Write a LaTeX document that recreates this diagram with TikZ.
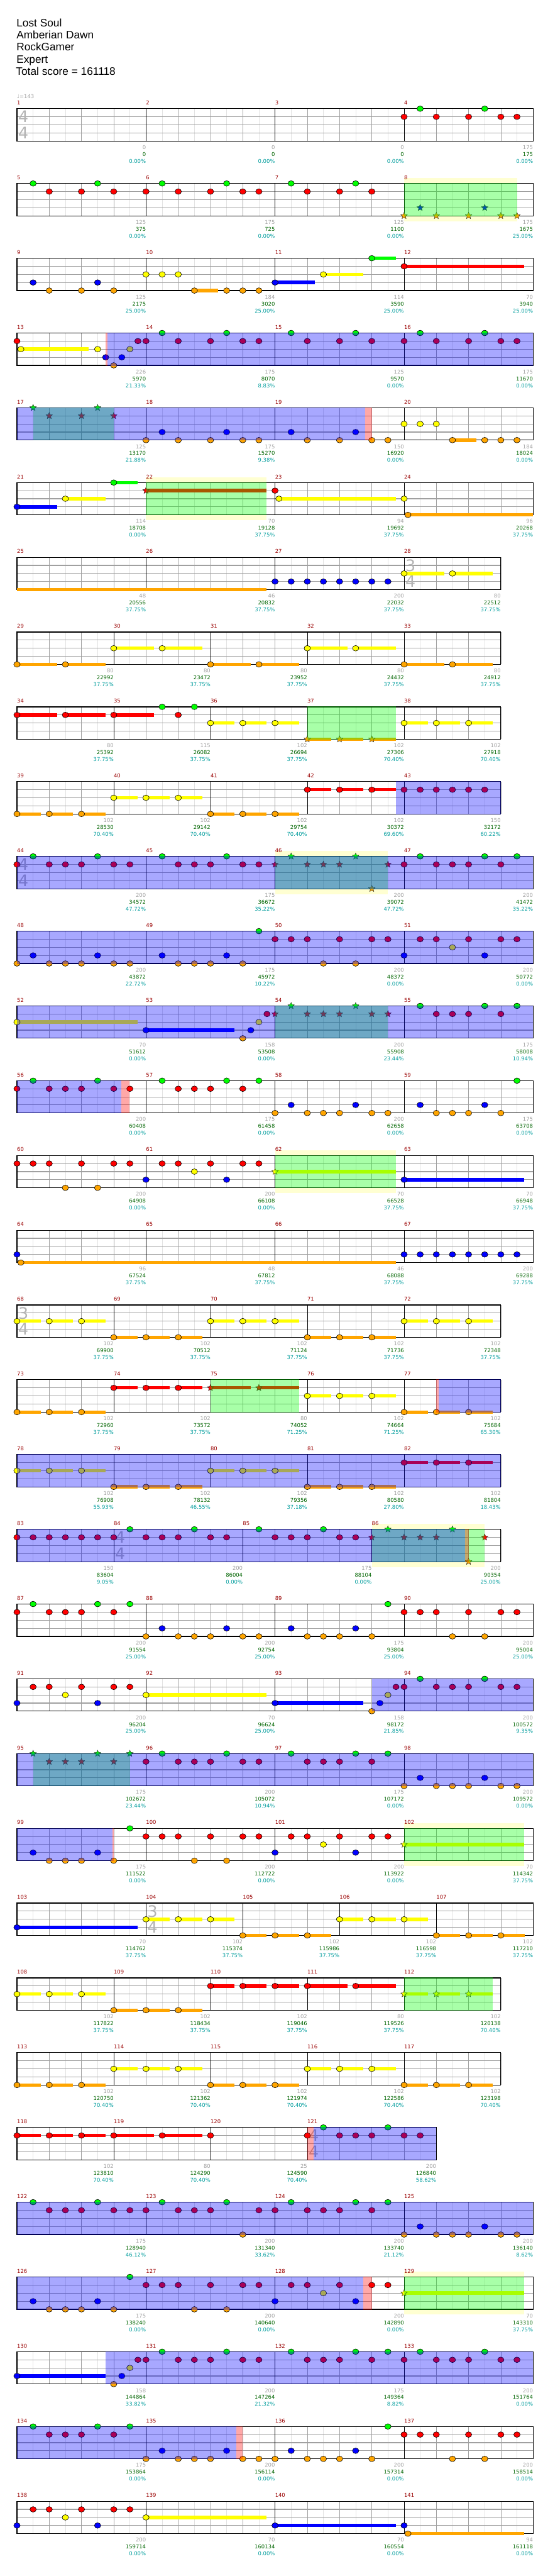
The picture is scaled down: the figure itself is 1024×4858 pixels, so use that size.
\documentclass[tikz,border=0pt]{standalone}
\usepackage{fontspec}
\setmainfont{DejaVu Sans}
\newfontfamily\titlefont{Liberation Sans}
\usepackage{tikz}
\usetikzlibrary{shapes.geometric}
\definecolor{gemgreen}{HTML}{00FF00}
\definecolor{gemred}{HTML}{FF0000}
\definecolor{gemyellow}{HTML}{FFFF00}
\definecolor{gemblue}{HTML}{0000FF}
\definecolor{gemorange}{HTML}{FFA500}
\definecolor{measred}{HTML}{990000}
\definecolor{scoregrey}{HTML}{A0A0A0}
\definecolor{scoregreen}{HTML}{006400}
\definecolor{scoreteal}{HTML}{009C9C}
\definecolor{sigrey}{HTML}{B4B4B4}
\definecolor{soloyellow}{HTML}{FFFFD2}
\definecolor{lanegrey}{HTML}{A0A0A0}
\definecolor{halfgrey}{HTML}{E2E2E2}
\pgfdeclarelayer{solo}
\pgfdeclarelayer{tint}
\pgfsetlayers{solo,main,tint}
\tikzset{
  row/.style={shift={(32pt,{-205pt-141pt*#1})},x=60.875pt,y=-15.25pt},
  % noter
  gem/.style={ellipse,draw=black,line width=0.7pt,inner sep=0pt,
              minimum width=12pt,minimum height=10.5pt},
  stargem/.style={star,star points=5,star point ratio=2.2,draw=black!85,
              line width=0.5pt,inner sep=0pt,minimum size=13pt},
  susbar/.style={line width=6.5pt},
  % rutnät
  halfl/.style={draw=halfgrey,line width=0.8pt},
  beatl/.style={draw=lanegrey,line width=0.9pt},
  lanel/.style={draw=lanegrey,line width=1.3pt},
  barl/.style={draw=black,line width=0.9pt},
  frame/.style={draw=black,line width=1.4pt},
  % fält
  odz/.style={fill=blue,fill opacity=0.34},
  phrz/.style={fill=green,fill opacity=0.34},
  actz/.style={fill=red,fill opacity=0.34},
  solob/.style={fill=soloyellow},
  % text
  mnum/.style={font=\fontsize{10}{12}\selectfont,text=measred,anchor=base west,inner sep=0pt},
  sg/.style={font=\fontsize{10}{12}\selectfont,text=scoregrey,anchor=base east,inner sep=0pt},
  sc/.style={font=\fontsize{10}{12}\selectfont,text=scoregreen,anchor=base east,inner sep=0pt},
  sp/.style={font=\fontsize{10}{12}\selectfont,text=scoreteal,anchor=base east,inner sep=0pt},
  tsnum/.style={font=\fontsize{30}{30}\selectfont,text=sigrey,inner sep=0pt},
  head/.style={font=\titlefont\fontsize{20.5}{23}\selectfont,anchor=base west,inner sep=0pt},
}
\newcommand{\staff}[1]{%
  \fill[white] (0,0) rectangle (#1,4);
  \foreach \k in {1,...,#1} {\draw[halfl] (\k-0.5,0) -- (\k-0.5,4);}
  \foreach \k in {1,...,#1} {\draw[beatl] (\k,0) -- (\k,4);}
  \foreach \l in {1,2,3} {\draw[lanel] (0,\l) -- (#1,\l);}
  \draw[frame] (0,0) rectangle (#1,4);}
\newcommand{\meas}[2]{\draw[barl] (#1,0) -- (#1,4);
  \node[mnum,yshift=7.4pt] at (#1,0) {#2};}
\newcommand{\tsig}[3]{\node[tsnum] at (#1+0.2,1) {#2};\node[tsnum] at (#1+0.2,3) {#3};}
\newcommand{\gems}[3]{\foreach \bt in {#3} {\node[gem,fill=#1] at (\bt,#2) {};}}
\newcommand{\stars}[3]{\foreach \bt in {#3} {\node[stargem,fill=#1] at (\bt,#2) {};}}
\newcommand{\sus}[4]{\draw[susbar,draw=#1] (#3,#2) -- (#4,#2);
  \node[gem,fill=#1] at (#3,#2) {};}
\newcommand{\starsus}[4]{\draw[susbar,draw=#1] (#3,#2) -- (#4,#2);
  \node[stargem,fill=#1] at (#3,#2) {};}
\newcommand{\suss}[4]{\foreach \bt in {#4} {\draw[susbar,draw=#1] (\bt,#2) -- (\bt+#3,#2);
  \node[gem,fill=#1] at (\bt,#2) {};}}
\newcommand{\starsuss}[4]{\foreach \bt in {#4} {\draw[susbar,draw=#1] (\bt,#2) -- (\bt+#3,#2);
  \node[stargem,fill=#1] at (\bt,#2) {};}}
\newcommand{\tail}[4]{\draw[susbar,draw=#1] (#3,#2) -- (#4,#2);}
\newcommand{\solo}[2]{\begin{pgfonlayer}{solo}\fill[solob] (#1,-0.656) rectangle (#2,4.656);\end{pgfonlayer}}
\newcommand{\phr}[2]{\begin{pgfonlayer}{tint}\fill[phrz] (#1,-0.045) rectangle (#2,4.045);\end{pgfonlayer}}
\newcommand{\od}[2]{\begin{pgfonlayer}{tint}\fill[odz] (#1,-0.045) rectangle (#2,4.045);\end{pgfonlayer}}
\newcommand{\act}[2]{\begin{pgfonlayer}{tint}\fill[actz] (#1,-0.045) rectangle (#2,4.045);\end{pgfonlayer}}
\newcommand{\scr}[4]{\node[sg,yshift=-15.65pt] at (#1,4) {#2};
  \node[sc,yshift=-28.65pt] at (#1,4) {#3};
  \node[sp,yshift=-41.65pt] at (#1,4) {#4\%};}

\begin{document}
\begin{tikzpicture}
\useasboundingbox (0,0) rectangle (1024pt,-4858pt);
\node[head] (song) at (31pt,-50pt) {Lost Soul};
\node[head] (band) at (31pt,-73pt) {Amberian Dawn};
\node[head] (chart) at (31pt,-96pt) {RockGamer};
\node[head] (diff) at (31pt,-119pt) {Expert};
\node[head] (total) at (30pt,-142pt) {Total score = 161118};

% 1-4
\begin{scope}[row=0]
  \staff{16}
  \meas{0}{1}\meas{4}{2}\meas{8}{3}\meas{12}{4}
  \tsig{0}{4}{4}
  \node[font=\fontsize{10}{12}\selectfont,text=scoregrey,anchor=base west,inner sep=0pt,yshift=19pt] (tempo) at (0,0) {♩=143};
  \gems{gemred}{1}{12,13,14,15,15.5}
  \gems{gemgreen}{0}{12.5,14.5}
  \scr{4}{0}{0}{0.00}\scr{8}{0}{0}{0.00}\scr{12}{0}{0}{0.00}\scr{16}{175}{175}{0.00}
\end{scope}
% 5-8
\begin{scope}[row=1]
  \staff{16}
  \meas{0}{5}\meas{4}{6}\meas{8}{7}\meas{12}{8}
  \gems{gemgreen}{0}{0.5,2.5,4.5,6.5,8.5,10.5}
  \gems{gemred}{1}{1,2,3,4,5,6,7,7.5,9,10,11}
  \stars{gemorange}{4}{12,13,14,15,15.5}
  \stars{gemblue}{3}{12.5,14.5}
  \solo{12}{15.5}\phr{12}{15.5}
  \scr{4}{125}{375}{0.00}\scr{8}{175}{725}{0.00}\scr{12}{125}{1100}{0.00}\scr{16}{175}{1675}{25.00}
\end{scope}
% 9-12
\begin{scope}[row=2]
  \staff{16}
  \meas{0}{9}\meas{4}{10}\meas{8}{11}\meas{12}{12}
  \gems{gemblue}{3}{0.5,2.5}
  \gems{gemorange}{4}{1,2,3,6.5,7,7.5}
  \gems{gemyellow}{2}{4,4.5,5}
  \sus{gemorange}{4}{5.5}{6.24}
  \sus{gemblue}{3}{8}{9.24}
  \sus{gemyellow}{2}{9.5}{10.74}
  \sus{gemgreen}{0}{11}{11.74}
  \sus{gemred}{1}{12}{15.72}
  \scr{4}{125}{2175}{25.00}\scr{8}{184}{3020}{25.00}\scr{12}{114}{3590}{25.00}\scr{16}{70}{3940}{25.00}
\end{scope}
% 13-16
\begin{scope}[row=3]
  \staff{16}
  \meas{0}{13}\meas{4}{14}\meas{8}{15}\meas{12}{16}
  \sus{gemyellow}{2}{0.12}{2.23}
  \gems{gemred}{1}{0,3.75,4,5,6,7,7.5,9,10,11,12,13,14,15,15.5}
  \gems{gemyellow}{2}{2.5,3.5}
  \gems{gemblue}{3}{2.75,3.25}
  \gems{gemorange}{4}{3}
  \gems{gemgreen}{0}{4.5,6.5,8.5,10.5,12.5,14.5}
  \od{2.8}{16}\act{2.74}{2.8}
  \scr{4}{226}{5970}{21.33}\scr{8}{175}{8070}{8.83}\scr{12}{125}{9570}{0.00}\scr{16}{175}{11670}{0.00}
\end{scope}
% 17-20
\begin{scope}[row=4]
  \staff{16}
  \meas{0}{17}\meas{4}{18}\meas{8}{19}\meas{12}{20}
  \stars{gemgreen}{0}{0.5,2.5}
  \stars{gemred}{1}{1,2,3}
  \gems{gemorange}{4}{4,5,6,7,7.5,9,10,11,11.5,14.5,15,15.5}
  \gems{gemblue}{3}{4.5,6.5,8.5,10.5}
  \gems{gemyellow}{2}{12,12.5,13}
  \sus{gemorange}{4}{13.5}{14.24}
  \phr{0.5}{3}\od{0}{10.8}\act{10.8}{11}
  \scr{4}{125}{13170}{21.88}\scr{8}{175}{15270}{9.38}\scr{12}{150}{16920}{0.00}\scr{16}{184}{18024}{0.00}
\end{scope}
% 21-24
\begin{scope}[row=5]
  \staff{16}
  \meas{0}{21}\meas{4}{22}\meas{8}{23}\meas{12}{24}
  \sus{gemblue}{3}{0}{1.24}
  \sus{gemyellow}{2}{1.5}{2.74}
  \sus{gemgreen}{0}{3}{3.74}
  \starsus{gemred}{1}{4}{7.74}
  \gems{gemred}{1}{8}
  \sus{gemyellow}{2}{8.12}{11.74}
  \gems{gemyellow}{2}{12}
  \sus{gemorange}{4}{12.12}{16}
  \solo{4}{7.74}\phr{4}{7.74}
  \scr{4}{114}{18708}{0.00}\scr{8}{70}{19128}{37.75}\scr{12}{94}{19692}{37.75}\scr{16}{96}{20268}{37.75}
\end{scope}
% 25-28
\begin{scope}[row=6]
  \staff{15}
  \meas{0}{25}\meas{4}{26}\meas{8}{27}\meas{12}{28}
  \tsig{12}{3}{4}
  \tail{gemorange}{4}{0}{7.74}
  \gems{gemblue}{3}{8,8.5,...,11.5}
  \sus{gemyellow}{2}{12}{13.24}\sus{gemyellow}{2}{13.5}{14.74}
  \scr{4}{48}{20556}{37.75}\scr{8}{46}{20832}{37.75}\scr{12}{200}{22032}{37.75}\scr{15}{80}{22512}{37.75}
\end{scope}
% 29-33
\begin{scope}[row=7]
  \staff{15}
  \meas{0}{29}\meas{3}{30}\meas{6}{31}\meas{9}{32}\meas{12}{33}
  \suss{gemorange}{4}{1.24}{0,1.5,6,7.5,12,13.5}
  \suss{gemyellow}{2}{1.24}{3,4.5,9,10.5}
  \scr{3}{80}{22992}{37.75}\scr{6}{80}{23472}{37.75}\scr{9}{80}{23952}{37.75}\scr{12}{80}{24432}{37.75}\scr{15}{80}{24912}{37.75}
\end{scope}
% 34-38
\begin{scope}[row=8]
  \staff{15}
  \meas{0}{34}\meas{3}{35}\meas{6}{36}\meas{9}{37}\meas{12}{38}
  \suss{gemred}{1}{1.24}{0,1.5,3}
  \gems{gemgreen}{0}{4.5,5.5}
  \gems{gemred}{1}{5}
  \suss{gemyellow}{2}{0.74}{6,7,8,12,13,14}
  \starsuss{gemorange}{4}{0.74}{9,10,11}
  \phr{9}{11.74}
  \scr{3}{80}{25392}{37.75}\scr{6}{115}{26082}{37.75}\scr{9}{102}{26694}{37.75}\scr{12}{102}{27306}{70.40}\scr{15}{102}{27918}{70.40}
\end{scope}
% 39-43
\begin{scope}[row=9]
  \staff{15}
  \meas{0}{39}\meas{3}{40}\meas{6}{41}\meas{9}{42}\meas{12}{43}
  \suss{gemorange}{4}{0.74}{0,1,2,6,7,8}
  \suss{gemyellow}{2}{0.74}{3,4,5}
  \suss{gemred}{1}{0.74}{9,10,11}
  \gems{gemred}{1}{12,12.5,...,14.5}
  \od{11.74}{15}
  \scr{3}{102}{28530}{70.40}\scr{6}{102}{29142}{70.40}\scr{9}{102}{29754}{70.40}\scr{12}{102}{30372}{69.60}\scr{15}{150}{32172}{60.22}
\end{scope}
% 44-47
\begin{scope}[row=10]
  \staff{16}
  \meas{0}{44}\meas{4}{45}\meas{8}{46}\meas{12}{47}
  \tsig{0}{4}{4}
  \gems{gemred}{1}{0,1,1.5,2,3,3.5,5,5.5,6,7,7.5,12,13,13.5,14,15}
  \gems{gemgreen}{0}{0.5,2.5,4.5,6.5,12.5,14.5,15.5}
  \stars{gemred}{1}{8,9,9.5,10,11.5}
  \stars{gemgreen}{0}{8.5,10.5}
  \stars{gemorange}{4}{11}
  \solo{8}{11.5}\phr{8}{11.5}\od{0}{16}
  \scr{4}{200}{34572}{47.72}\scr{8}{175}{36672}{35.22}\scr{12}{200}{39072}{47.72}\scr{16}{200}{41472}{35.22}
\end{scope}
% 48-51
\begin{scope}[row=11]
  \staff{16}
  \meas{0}{48}\meas{4}{49}\meas{8}{50}\meas{12}{51}
  \gems{gemgreen}{0}{7.5}
  \gems{gemred}{1}{8,8.5,9,10,11,11.5,12.5,13,14,15,15.5}
  \gems{gemyellow}{2}{13.5}
  \gems{gemblue}{3}{0.5,2.5,4.5,6.5,12,14.5}
  \gems{gemorange}{4}{0,1,1.5,2,3,3.5,5,5.5,6,7,9.5,10.5}
  \od{0}{16}
  \scr{4}{200}{43872}{22.72}\scr{8}{175}{45972}{10.22}\scr{12}{200}{48372}{0.00}\scr{16}{200}{50772}{0.00}
\end{scope}
% 52-55
\begin{scope}[row=12]
  \staff{16}
  \meas{0}{52}\meas{4}{53}\meas{8}{54}\meas{12}{55}
  \sus{gemyellow}{2}{0}{3.74}
  \sus{gemblue}{3}{4}{6.75}
  \gems{gemorange}{4}{7}
  \gems{gemblue}{3}{7.25}
  \gems{gemyellow}{2}{7.5}
  \gems{gemred}{1}{7.75,13,13.5,14,15}
  \stars{gemred}{1}{8,9,9.5,10,11,11.5}
  \stars{gemgreen}{0}{8.5,10.5}
  \gems{gemgreen}{0}{12.5,14.5,15.5}
  \phr{8}{11.5}\od{0}{16}
  \scr{4}{70}{51612}{0.00}\scr{8}{158}{53508}{0.00}\scr{12}{200}{55908}{23.44}\scr{16}{175}{58008}{10.94}
\end{scope}
% 56-59
\begin{scope}[row=13]
  \staff{16}
  \meas{0}{56}\meas{4}{57}\meas{8}{58}\meas{12}{59}
  \gems{gemred}{1}{0,1,1.5,2,3,3.5,5,5.5,6,7}
  \gems{gemgreen}{0}{0.5,2.5,4.5,6.5,7.5,15.5}
  \gems{gemorange}{4}{8,9,9.5,10,11,11.5,13,13.5,14,15}
  \gems{gemblue}{3}{8.5,10.5,12.5,14.5}
  \od{0}{3.24}\act{3.24}{3.49}
  \scr{4}{200}{60408}{0.00}\scr{8}{175}{61458}{0.00}\scr{12}{200}{62658}{0.00}\scr{16}{175}{63708}{0.00}
\end{scope}
% 60-63
\begin{scope}[row=14]
  \staff{16}
  \meas{0}{60}\meas{4}{61}\meas{8}{62}\meas{12}{63}
  \gems{gemred}{1}{0,0.5,1,2,3,3.5,4.5,5,6,7,7.5}
  \gems{gemyellow}{2}{5.5}
  \gems{gemblue}{3}{4,6.5}
  \gems{gemorange}{4}{1.5,2.5}
  \starsus{gemyellow}{2}{8}{11.74}
  \sus{gemblue}{3}{12}{15.72}
  \solo{8}{11.74}\phr{8}{11.74}
  \scr{4}{200}{64908}{0.00}\scr{8}{200}{66108}{0.00}\scr{12}{70}{66528}{37.75}\scr{16}{70}{66948}{37.75}
\end{scope}
% 64-67
\begin{scope}[row=15]
  \staff{16}
  \meas{0}{64}\meas{4}{65}\meas{8}{66}\meas{12}{67}
  \gems{gemblue}{3}{0}
  \sus{gemorange}{4}{0.12}{11.74}
  \gems{gemblue}{3}{12,12.5,...,15.5}
  \scr{4}{96}{67524}{37.75}\scr{8}{48}{67812}{37.75}\scr{12}{46}{68088}{37.75}\scr{16}{200}{69288}{37.75}
\end{scope}
% 68-72
\begin{scope}[row=16]
  \staff{15}
  \meas{0}{68}\meas{3}{69}\meas{6}{70}\meas{9}{71}\meas{12}{72}
  \tsig{0}{3}{4}
  \suss{gemyellow}{2}{0.74}{0,1,2,6,7,8,12,13,14}
  \suss{gemorange}{4}{0.74}{3,4,5,9,10,11}
  \scr{3}{102}{69900}{37.75}\scr{6}{102}{70512}{37.75}\scr{9}{102}{71124}{37.75}\scr{12}{102}{71736}{37.75}\scr{15}{102}{72348}{37.75}
\end{scope}
% 73-77
\begin{scope}[row=17]
  \staff{15}
  \meas{0}{73}\meas{3}{74}\meas{6}{75}\meas{9}{76}\meas{12}{77}
  \suss{gemorange}{4}{0.74}{0,1,2,12,13,14}
  \suss{gemred}{1}{0.74}{3,4,5}
  \starsus{gemred}{1}{6}{7.24}\starsus{gemred}{1}{7.5}{8.74}
  \suss{gemyellow}{2}{0.74}{9,10,11}
  \phr{6}{8.74}\od{13.07}{15}\act{12.99}{13.07}
  \scr{3}{102}{72960}{37.75}\scr{6}{102}{73572}{37.75}\scr{9}{80}{74052}{71.25}\scr{12}{102}{74664}{71.25}\scr{15}{102}{75684}{65.30}
\end{scope}
% 78-82
\begin{scope}[row=18]
  \staff{15}
  \meas{0}{78}\meas{3}{79}\meas{6}{80}\meas{9}{81}\meas{12}{82}
  \suss{gemyellow}{2}{0.74}{0,1,2,6,7,8}
  \suss{gemorange}{4}{0.74}{3,4,5,9,10,11}
  \suss{gemred}{1}{0.74}{12,13,14}
  \od{0}{15}
  \scr{3}{102}{76908}{55.93}\scr{6}{102}{78132}{46.55}\scr{9}{102}{79356}{37.18}\scr{12}{102}{80580}{27.80}\scr{15}{102}{81804}{18.43}
\end{scope}
% 83-86
\begin{scope}[row=19]
  \staff{15}
  \meas{0}{83}\meas{3}{84}\meas{7}{85}\meas{11}{86}
  \tsig{3}{4}{4}
  \gems{gemred}{1}{0,0.5,1,1.5,2,2.5,3,4,4.5,5,6,6.5,8,8.5,9,10,10.5}
  \gems{gemgreen}{0}{3.5,5.5,7.5,9.5}
  \stars{gemred}{1}{11,12,12.5,13,14.5}
  \stars{gemgreen}{0}{11.5,13.5}
  \stars{gemorange}{4}{14}
  \solo{11}{14.5}\phr{11}{14.5}\od{0}{13.9}\act{13.9}{14}
  \scr{3}{150}{83604}{9.05}\scr{7}{200}{86004}{0.00}\scr{11}{175}{88104}{0.00}\scr{15}{200}{90354}{25.00}
\end{scope}
% 87-90
\begin{scope}[row=20]
  \staff{16}
  \meas{0}{87}\meas{4}{88}\meas{8}{89}\meas{12}{90}
  \gems{gemred}{1}{0,1,1.5,2,3,12,12.5,13,14,15,15.5}
  \gems{gemgreen}{0}{0.5,2.5,3.5,11.5}
  \gems{gemorange}{4}{4,5,5.5,6,7,7.5,9,9.5,10,11,13.5,14.5}
  \gems{gemblue}{3}{4.5,6.5,8.5,10.5}
  \scr{4}{200}{91554}{25.00}\scr{8}{200}{92754}{25.00}\scr{12}{175}{93804}{25.00}\scr{16}{200}{95004}{25.00}
\end{scope}
% 91-94
\begin{scope}[row=21]
  \staff{16}
  \meas{0}{91}\meas{4}{92}\meas{8}{93}\meas{12}{94}
  \gems{gemblue}{3}{0,2.5,11.25}
  \gems{gemred}{1}{0.5,1,2,3,3.5,11.75,12,13,13.5,14,15,15.5}
  \gems{gemyellow}{2}{1.5,11.5}
  \sus{gemyellow}{2}{4}{7.74}
  \sus{gemblue}{3}{8}{10.74}
  \gems{gemorange}{4}{11}
  \gems{gemgreen}{0}{12.5,14.5}
  \od{11}{16}
  \scr{4}{200}{96204}{25.00}\scr{8}{70}{96624}{25.00}\scr{12}{158}{98172}{21.85}\scr{16}{200}{100572}{9.35}
\end{scope}
% 95-98
\begin{scope}[row=22]
  \staff{16}
  \meas{0}{95}\meas{4}{96}\meas{8}{97}\meas{12}{98}
  \stars{gemgreen}{0}{0.5,2.5,3.5}
  \stars{gemred}{1}{1,1.5,2,3}
  \gems{gemred}{1}{4,5,5.5,6,7,7.5,9,9.5,10,11}
  \gems{gemgreen}{0}{4.5,6.5,8.5,10.5,11.5}
  \gems{gemorange}{4}{12,13,13.5,14,15,15.5}
  \gems{gemblue}{3}{12.5,14.5}
  \phr{0.5}{3.5}\od{0}{16}
  \scr{4}{175}{102672}{23.44}\scr{8}{200}{105072}{10.94}\scr{12}{175}{107172}{0.00}\scr{16}{200}{109572}{0.00}
\end{scope}
% 99-102
\begin{scope}[row=23]
  \staff{16}
  \meas{0}{99}\meas{4}{100}\meas{8}{101}\meas{12}{102}
  \gems{gemblue}{3}{0.5,2.5,8,10.5}
  \gems{gemorange}{4}{1,1.5,2,3,5.5,6.5}
  \gems{gemgreen}{0}{3.5}
  \gems{gemred}{1}{4,4.5,5,6,7,7.5,8.5,9,10,11,11.5}
  \gems{gemyellow}{2}{9.5}
  \starsus{gemyellow}{2}{12}{15.72}
  \solo{12}{15.72}\phr{12}{15.72}\od{0}{2.97}\act{2.97}{3}
  \scr{4}{175}{111522}{0.00}\scr{8}{200}{112722}{0.00}\scr{12}{200}{113922}{0.00}\scr{16}{70}{114342}{37.75}
\end{scope}
% 103-107
\begin{scope}[row=24]
  \staff{16}
  \meas{0}{103}\meas{4}{104}\meas{7}{105}\meas{10}{106}\meas{13}{107}
  \tsig{4}{3}{4}
  \sus{gemblue}{3}{0}{3.74}
  \suss{gemyellow}{2}{0.74}{4,5,6,10,11,12}
  \suss{gemorange}{4}{0.74}{7,8,9,13,14,15}
  \scr{4}{70}{114762}{37.75}\scr{7}{102}{115374}{37.75}\scr{10}{102}{115986}{37.75}\scr{13}{102}{116598}{37.75}\scr{16}{102}{117210}{37.75}
\end{scope}
% 108-112
\begin{scope}[row=25]
  \staff{15}
  \meas{0}{108}\meas{3}{109}\meas{6}{110}\meas{9}{111}\meas{12}{112}
  \suss{gemyellow}{2}{0.74}{0,1,2}
  \suss{gemorange}{4}{0.74}{3,4,5}
  \suss{gemred}{1}{0.74}{6,7,8}
  \sus{gemred}{1}{9}{10.24}\sus{gemred}{1}{10.5}{11.74}
  \starsuss{gemyellow}{2}{0.74}{12,13,14}
  \phr{12}{14.74}
  \scr{3}{102}{117822}{37.75}\scr{6}{102}{118434}{37.75}\scr{9}{102}{119046}{37.75}\scr{12}{80}{119526}{37.75}\scr{15}{102}{120138}{70.40}
\end{scope}
% 113-117
\begin{scope}[row=26]
  \staff{15}
  \meas{0}{113}\meas{3}{114}\meas{6}{115}\meas{9}{116}\meas{12}{117}
  \suss{gemorange}{4}{0.74}{0,1,2,6,7,8,12,13,14}
  \suss{gemyellow}{2}{0.74}{3,4,5,9,10,11}
  \scr{3}{102}{120750}{70.40}\scr{6}{102}{121362}{70.40}\scr{9}{102}{121974}{70.40}\scr{12}{102}{122586}{70.40}\scr{15}{102}{123198}{70.40}
\end{scope}
% 118-121
\begin{scope}[row=27]
  \staff{13}
  \meas{0}{118}\meas{3}{119}\meas{6}{120}\meas{9}{121}
  \tsig{9}{4}{4}
  \suss{gemred}{1}{0.74}{0,1,2}
  \sus{gemred}{1}{3}{4.24}\sus{gemred}{1}{4.5}{5.74}
  \gems{gemred}{1}{6,9,10,10.5,11,12,12.5}
  \gems{gemgreen}{0}{9.5,11.5}
  \od{9.2}{13}\act{9}{9.2}
  \scr{3}{102}{123810}{70.40}\scr{6}{80}{124290}{70.40}\scr{9}{25}{124590}{70.40}\scr{13}{200}{126840}{58.62}
\end{scope}
% 122-125
\begin{scope}[row=28]
  \staff{16}
  \meas{0}{122}\meas{4}{123}\meas{8}{124}\meas{12}{125}
  \gems{gemgreen}{0}{0.5,2.5,4.5,6.5,8.5,10.5,11.5}
  \gems{gemred}{1}{1,1.5,2,3,3.5,4,5,5.5,6,7.5,8,9,9.5,10,11}
  \gems{gemorange}{4}{7,12,13,13.5,14,15,15.5}
  \gems{gemblue}{3}{12.5,14.5}
  \od{0}{16}
  \scr{4}{175}{128940}{46.12}\scr{8}{200}{131340}{33.62}\scr{12}{200}{133740}{21.12}\scr{16}{200}{136140}{8.62}
\end{scope}
% 126-129
\begin{scope}[row=29]
  \staff{16}
  \meas{0}{126}\meas{4}{127}\meas{8}{128}\meas{12}{129}
  \gems{gemblue}{3}{0.5,2.5,8,10.5}
  \gems{gemorange}{4}{1,1.5,2,3,5.5,6.5}
  \gems{gemgreen}{0}{3.5}
  \gems{gemred}{1}{4,4.5,5,6,7,7.5,8.5,9,10,11,11.5}
  \gems{gemyellow}{2}{9.5}
  \starsus{gemyellow}{2}{12}{15.72}
  \solo{12}{15.72}\phr{12}{15.72}\od{0}{10.74}\act{10.74}{11}
  \scr{4}{175}{138240}{0.00}\scr{8}{200}{140640}{0.00}\scr{12}{200}{142890}{0.00}\scr{16}{70}{143310}{37.75}
\end{scope}
% 130-133
\begin{scope}[row=30]
  \staff{16}
  \meas{0}{130}\meas{4}{131}\meas{8}{132}\meas{12}{133}
  \sus{gemblue}{3}{0}{2.74}
  \gems{gemorange}{4}{3}
  \gems{gemblue}{3}{3.25}
  \gems{gemyellow}{2}{3.5}
  \gems{gemred}{1}{3.75,4,5,5.5,6,7,7.5,9,9.5,10,11,12,13,13.5,14,15,15.5}
  \gems{gemgreen}{0}{4.5,6.5,8.5,10.5,11.5,12.5,14.5}
  \od{2.74}{16}
  \scr{4}{158}{144864}{33.82}\scr{8}{200}{147264}{21.32}\scr{12}{175}{149364}{8.82}\scr{16}{200}{151764}{0.00}
\end{scope}
% 134-137
\begin{scope}[row=31]
  \staff{16}
  \meas{0}{134}\meas{4}{135}\meas{8}{136}\meas{12}{137}
  \gems{gemgreen}{0}{0.5,2.5,3.5,11.5}
  \gems{gemred}{1}{1,1.5,2,3,12,12.5,13,14,15,15.5}
  \gems{gemorange}{4}{4,5,5.5,6,7,7.5,8,9,9.5,10,11,13.5,14.5}
  \gems{gemblue}{3}{4.5,6.5,8.5,10.5}
  \od{0}{6.8}\act{6.8}{7}
  \scr{4}{175}{153864}{0.00}\scr{8}{200}{156114}{0.00}\scr{12}{200}{157314}{0.00}\scr{16}{200}{158514}{0.00}
\end{scope}
% 138-141
\begin{scope}[row=32]
  \staff{16}
  \meas{0}{138}\meas{4}{139}\meas{8}{140}\meas{12}{141}
  \gems{gemblue}{3}{0,2.5}
  \gems{gemred}{1}{0.5,1,2,3,3.5}
  \gems{gemyellow}{2}{1.5}
  \sus{gemyellow}{2}{4}{7.74}
  \sus{gemblue}{3}{8}{11.74}
  \gems{gemblue}{3}{12}
  \sus{gemorange}{4}{12.12}{15.72}
  \scr{4}{200}{159714}{0.00}\scr{8}{70}{160134}{0.00}\scr{12}{70}{160554}{0.00}\scr{16}{94}{161118}{0.00}
\end{scope}
\end{tikzpicture}
\end{document}
